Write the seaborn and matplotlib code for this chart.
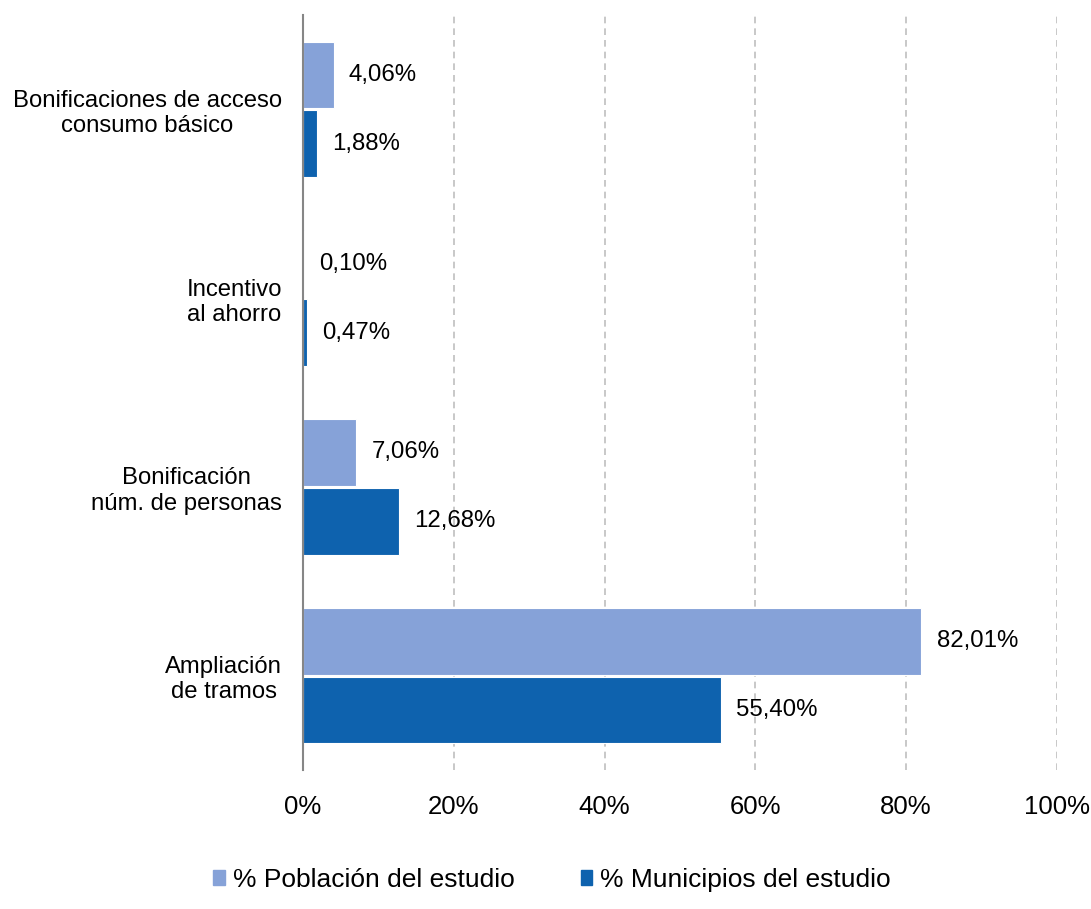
import matplotlib
matplotlib.use('Agg')
import matplotlib.pyplot as plt
import pandas as pd
import seaborn as sns

# Chart data
categories = ['Bonificaciones de acceso\nconsumo básico', 'Incentivo\nal ahorro',
              'Bonificación\nnúm. de personas', 'Ampliación\nde tramos']
series = ['% Población del estudio', '% Municipios del estudio']
poblacion = [4.06, 0.10, 7.06, 82.01]
municipios = [1.88, 0.47, 12.68, 55.40]
poblacion_labels = ['4,06%', '0,10%', '7,06%', '82,01%']
municipios_labels = ['1,88%', '0,47%', '12,68%', '55,40%']
x_ticks = [0, 20, 40, 60, 80, 100]
x_tick_labels = ['0%', '20%', '40%', '60%', '80%', '100%']
colors = ['#86A2D8', '#0E62AE']

df = pd.DataFrame({
    'categoria': categories * 2,
    'serie': [series[0]] * 4 + [series[1]] * 4,
    'valor': poblacion + municipios,
})

sns.set_theme(style='white')
plt.rcParams['font.family'] = ['Liberation Sans', 'DejaVu Sans']
plt.rcParams['text.color'] = 'black'

fig = plt.figure(figsize=(10.91, 9.09), dpi=100)
ax = fig.add_axes([0.2777, 0.153, 0.6911, 0.8305])

sns.barplot(data=df, x='valor', y='categoria', hue='serie', order=categories,
            hue_order=series, palette=colors, saturation=1, orient='h',
            width=0.73, gap=0.03, edgecolor='white', linewidth=0.8, ax=ax,
            legend=False)

for cont, labs in zip(ax.containers, [poblacion_labels, municipios_labels]):
    ax.bar_label(cont, labels=labs, padding=11, fontsize=17.3, color='black')

ax.set_xlim(0, 100)
ax.set_ylim(3.5, -0.5)
ax.set_xticks(x_ticks)
ax.set_xticklabels(x_tick_labels, fontsize=18.5, color='black')
ax.set_yticks(range(len(categories)))
ax.set_yticklabels(categories, fontsize=17.2, color='black', multialignment='center')
ax.tick_params(axis='x', length=0, pad=18)
ax.tick_params(axis='y', length=0, pad=15)
ax.set_xlabel('')
ax.set_ylabel('')

for v in x_ticks[1:]:
    ax.axvline(v, color='#BFBFBF', linestyle=(0, (4, 3)), linewidth=1.2, zorder=0)

for s in ['top', 'right', 'bottom']:
    ax.spines[s].set_visible(False)
ax.spines['left'].set_color('#868686')
ax.spines['left'].set_linewidth(1.5)

handles = [plt.Rectangle((0, 0), 1, 1, color=c) for c in colors]
fig.legend(handles, series, loc='center', bbox_to_anchor=(0.506, 0.032), ncol=2,
           frameon=False, fontsize=19, handlelength=0.45, handleheight=0.45,
           handletextpad=0.3, columnspacing=2.5)

fig.savefig('out.png', dpi=100)
